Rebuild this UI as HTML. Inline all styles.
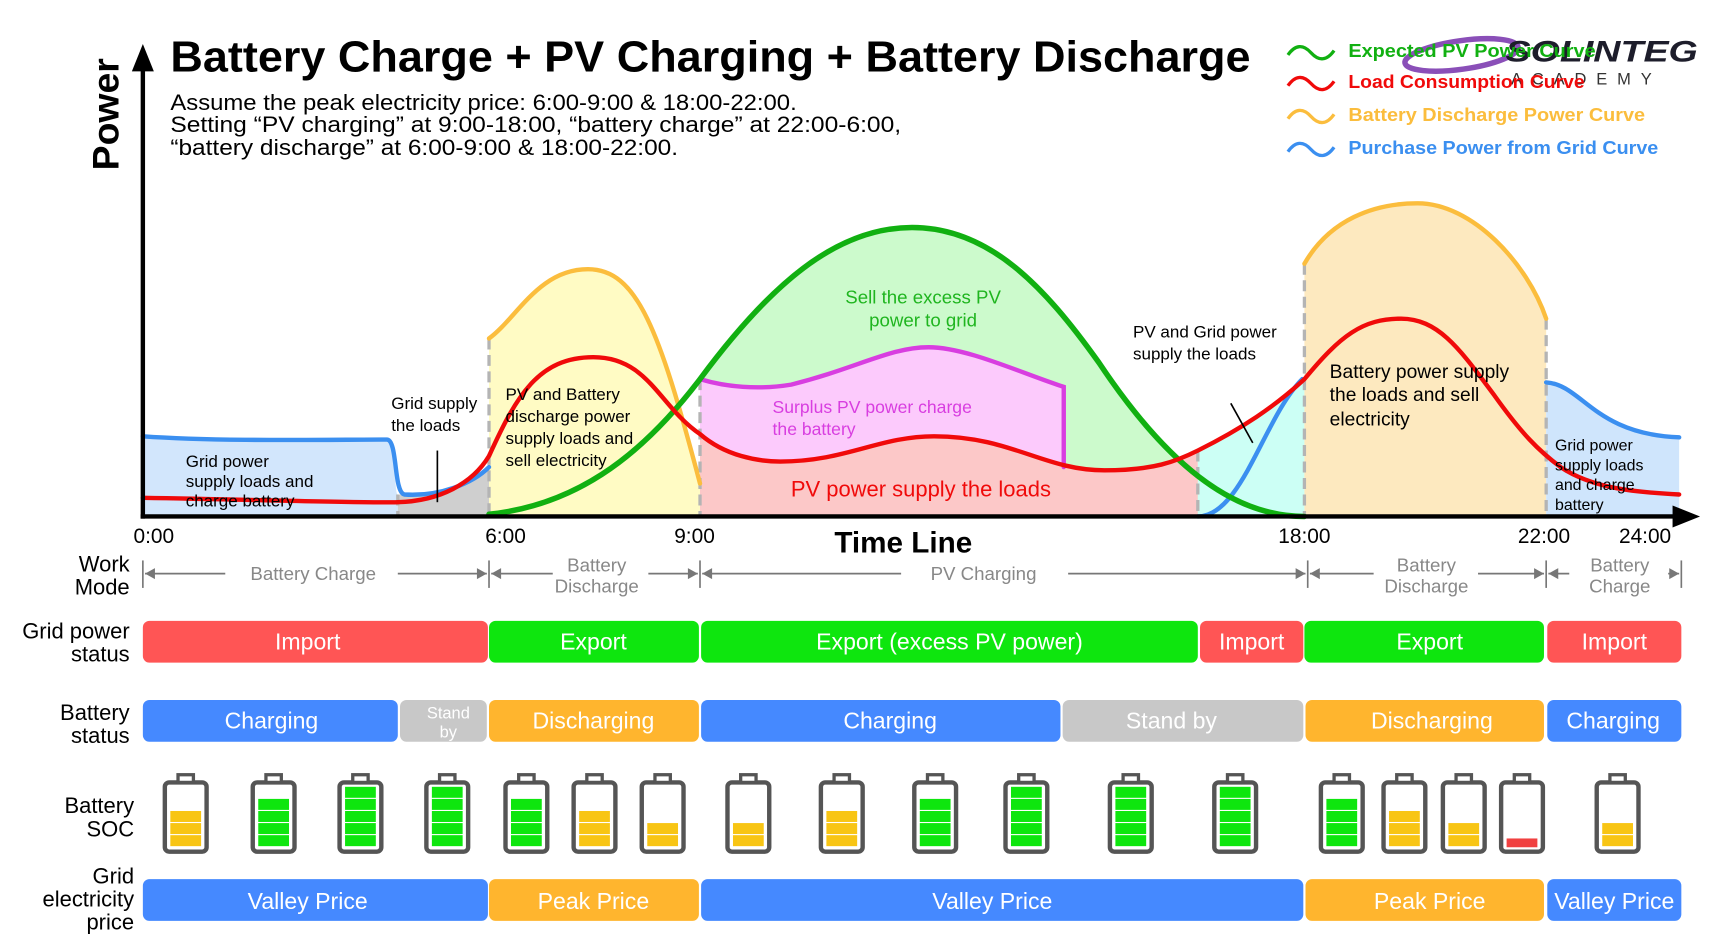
<!DOCTYPE html>
<html><head><meta charset="utf-8"><style>
html,body{margin:0;padding:0;background:#fff;}
svg{display:block;font-family:"Liberation Sans",sans-serif;}
</style></head><body>
<svg width="1722" height="940" viewBox="0 0 1567 855.4" preserveAspectRatio="none" xmlns="http://www.w3.org/2000/svg">
<defs>
<clipPath id="gc"><rect x="637" y="0" width="550" height="470"/></clipPath>
</defs>
<path d="M130,397 C200,402 300,400 352,400 C362,400 358,448 362,450 L362,470 L130,470Z" fill="#d2e6fc"/>
<path d="M362,450 C400,452 430,440 445,425 L445,470 L362,470Z" fill="#cfcfcf"/>
<path d="M445,308 C470,290 490,245 535,245 C580,245 600,300 637,440 L637,470 L445,470Z" fill="#fffbc4"/>
<path clip-path="url(#gc)" d="M445,468 C520,460 580,420 637,345 C700,260 760,207 830,207 C900,207 950,260 1000,330 C1060,420 1120,470 1187,470Z" fill="#ccfacc"/>
<path d="M637,345 C660,352 690,355 720,350 C780,335 810,316 845,316 C880,316 930,340 968,352 L968,470 L637,470Z" fill="#fccafc"/>
<path d="M637,395 C660,415 690,420 710,420 C770,420 800,397 850,397 C920,397 950,428 1005,428 C1050,428 1070,420 1090,410 L1090,470 L637,470Z" fill="#fcc8c8"/>
<path d="M1090,410 C1130,390 1160,370 1187,345 L1187,470 L1090,470Z" fill="#ccfff5"/>
<path d="M1187,240 C1210,200 1250,185 1290,185 C1340,185 1390,240 1407,290 L1407,470 L1187,470Z" fill="#fde9bf"/>
<path d="M1407,348 C1440,350 1450,395 1528,398 L1528,470 L1407,470Z" fill="#cfe5fc"/>
<g stroke="#b4b4b4" stroke-width="3" stroke-dasharray="10,5">
<line x1="445" y1="308" x2="445" y2="470"/><line x1="637" y1="345" x2="637" y2="470"/>
<line x1="1187" y1="240" x2="1187" y2="470"/><line x1="1407" y1="290" x2="1407" y2="470"/>
<line x1="1090" y1="410" x2="1090" y2="470"/><line x1="362" y1="450" x2="362" y2="470"/>
</g>
<g fill="none" stroke-width="4" stroke-linecap="round">
<path d="M130,397 C200,402 300,400 352,400 C362,400 358,448 368,450 C400,452 430,440 445,425" stroke="#3b8ff0"/>
<path d="M1090,470 C1130,470 1150,380 1185,345" stroke="#3b8ff0"/>
<path d="M1407,348 C1440,350 1450,395 1528,398" stroke="#3b8ff0"/>
<path d="M445,308 C470,290 490,245 535,245 C580,245 600,300 637,440" stroke="#fbbd3d"/>
<path d="M1187,240 C1210,200 1250,185 1290,185 C1340,185 1390,240 1407,290" stroke="#fbbd3d"/>
<path d="M637,345 C660,352 690,355 720,350 C780,335 810,316 845,316 C880,316 930,340 968,352 L968,425" stroke="#d83ee0"/>
<path d="M445,468 C520,460 580,420 637,345 C700,260 760,207 830,207 C900,207 950,260 1000,330 C1060,420 1120,470 1187,470" stroke="#11b011" stroke-width="5"/>
<path d="M130,453 C250,455 330,458 362,457 C400,456 430,440 445,415 C470,360 490,325 540,325 C590,325 600,370 637,395 C660,415 690,420 710,420 C770,420 800,397 850,397 C920,397 950,428 1005,428 C1050,428 1070,420 1090,410 C1130,390 1160,370 1187,345 C1220,305 1240,290 1275,290 C1310,290 1330,320 1360,360 C1385,395 1400,410 1420,425 C1450,445 1490,448 1528,450" stroke="#f00a0a"/>
</g>
<line x1="130" y1="60" x2="130" y2="472" stroke="#000" stroke-width="4"/>
<polygon points="130,40 120,65 140,65" fill="#000"/>
<line x1="128" y1="470" x2="1525" y2="470" stroke="#000" stroke-width="4"/>
<polygon points="1547,470 1522,460 1522,480" fill="#000"/>
<text transform="translate(108,155) rotate(-90)" font-size="34" font-weight="bold">Power</text>
<text x="155" y="65" font-size="40" font-weight="bold" textLength="983" lengthAdjust="spacingAndGlyphs">Battery Charge + PV Charging + Battery Discharge</text>
<g font-size="20">
<text x="155" y="100" textLength="570" lengthAdjust="spacingAndGlyphs">Assume the peak electricity price: 6:00-9:00 &amp; 18:00-22:00.</text>
<text x="155" y="120" textLength="665" lengthAdjust="spacingAndGlyphs">Setting “PV charging” at 9:00-18:00,  “battery charge” at 22:00-6:00,</text>
<text x="155" y="141" textLength="462" lengthAdjust="spacingAndGlyphs">“battery discharge” at 6:00-9:00 &amp; 18:00-22:00.</text>
</g>
<ellipse cx="1330" cy="50" rx="52" ry="13" fill="none" stroke="#8a4fb8" stroke-width="5" transform="rotate(-8 1330 50)"/>
<text x="1370" y="56" font-size="27" font-weight="bold" font-style="italic" fill="#1d1d2b" textLength="175" lengthAdjust="spacingAndGlyphs">SOLINTEG</text>
<text x="1375" y="77" font-size="15" fill="#333" letter-spacing="9">ACADEMY</text>
<g fill="none" stroke-width="3">
<path d="M1172,50 q10,-14 21,-2 t21,-2" stroke="#11b011"/>
<path d="M1172,78 q10,-14 21,-2 t21,-2" stroke="#f00a0a"/>
<path d="M1172,108 q10,-14 21,-2 t21,-2" stroke="#fbbd3d"/>
<path d="M1172,138 q10,-14 21,-2 t21,-2" stroke="#3b8ff0"/>
</g>
<g font-size="17" font-weight="bold">
<text x="1227" y="52" fill="#11b011" textLength="225" lengthAdjust="spacingAndGlyphs">Expected PV Power Curve</text>
<text x="1227" y="80" fill="#f00a0a" textLength="215" lengthAdjust="spacingAndGlyphs">Load Consumption Curve</text>
<text x="1227" y="110" fill="#fbbd3d" textLength="270" lengthAdjust="spacingAndGlyphs">Battery Discharge Power Curve</text>
<text x="1227" y="140" fill="#3b8ff0" textLength="282" lengthAdjust="spacingAndGlyphs">Purchase Power from Grid Curve</text>
</g>
<g font-size="15.5">
<text x="169" y="425">Grid power</text><text x="169" y="443">supply loads and</text><text x="169" y="461">charge battery</text>
<text x="356" y="372">Grid supply</text><text x="356" y="392">the loads</text>
<text x="460" y="364">PV and Battery</text><text x="460" y="384">discharge power</text><text x="460" y="404">supply loads and</text><text x="460" y="424">sell electricity</text>
<text x="1031" y="307">PV and Grid power</text><text x="1031" y="327">supply the loads</text>
<text x="1415" y="410" font-size="14.5">Grid power</text><text x="1415" y="428" font-size="14.5">supply loads</text><text x="1415" y="446" font-size="14.5">and charge</text><text x="1415" y="464" font-size="14.5">battery</text>
</g>
<g font-size="17.5"><text x="1210" y="344">Battery power supply</text><text x="1210" y="365">the loads and sell</text><text x="1210" y="387">electricity</text></g>
<line x1="398" y1="410" x2="398" y2="457" stroke="#000" stroke-width="1.5"/>
<line x1="1120" y1="367" x2="1140" y2="403" stroke="#000" stroke-width="1.5"/>
<g font-size="17" fill="#1fb51f" text-anchor="middle"><text x="840" y="276">Sell the excess PV</text><text x="840" y="297">power to grid</text></g>
<g font-size="16" fill="#d83ee0"><text x="703" y="376">Surplus PV power charge</text><text x="703" y="396">the battery</text></g>
<text x="838" y="452" font-size="20" fill="#f00a0a" text-anchor="middle">PV power supply the loads</text>
<g font-size="19" text-anchor="middle">
<text x="140" y="494">0:00</text><text x="460" y="494">6:00</text><text x="632" y="494">9:00</text>
<text x="1187" y="494">18:00</text><text x="1405" y="494">22:00</text><text x="1497" y="494">24:00</text>
</g>
<text x="822" y="503" font-size="27" font-weight="bold" text-anchor="middle">Time Line</text>
<g font-size="20" text-anchor="end">
<text x="118" y="520">Work</text><text x="118" y="541">Mode</text>
<text x="118" y="581">Grid power</text><text x="118" y="602">status</text>
<text x="118" y="655">Battery</text><text x="118" y="676">status</text>
<text x="122" y="740">Battery</text><text x="122" y="761">SOC</text>
<text x="122" y="804">Grid</text><text x="122" y="825">electricity</text><text x="122" y="846">price</text>
</g>
<g stroke="#777" stroke-width="1.5" fill="#777">
<line x1="130" y1="510" x2="130" y2="535"/><line x1="445" y1="510" x2="445" y2="535"/><line x1="637" y1="510" x2="637" y2="535"/>
<line x1="1190" y1="510" x2="1190" y2="535"/><line x1="1407" y1="510" x2="1407" y2="535"/><line x1="1530" y1="510" x2="1530" y2="535"/>
<line x1="132" y1="522" x2="205" y2="522"/><line x1="362" y1="522" x2="443" y2="522"/>
<line x1="447" y1="522" x2="503" y2="522"/><line x1="590" y1="522" x2="635" y2="522"/>
<line x1="639" y1="522" x2="820" y2="522"/><line x1="972" y1="522" x2="1188" y2="522"/>
<line x1="1192" y1="522" x2="1250" y2="522"/><line x1="1345" y1="522" x2="1405" y2="522"/>
<line x1="1409" y1="522" x2="1428" y2="522"/><line x1="1518" y1="522" x2="1528" y2="522"/>
</g>
<g fill="#777">
<polygon points="132,522 141,517 141,527"/><polygon points="443,522 434,517 434,527"/>
<polygon points="447,522 456,517 456,527"/><polygon points="635,522 626,517 626,527"/>
<polygon points="639,522 648,517 648,527"/><polygon points="1188,522 1179,517 1179,527"/>
<polygon points="1192,522 1201,517 1201,527"/><polygon points="1405,522 1396,517 1396,527"/>
<polygon points="1409,522 1418,517 1418,527"/><polygon points="1528,522 1519,517 1519,527"/>
</g>
<g font-size="17" fill="#888" text-anchor="middle">
<text x="285" y="528">Battery Charge</text>
<text x="543" y="520">Battery</text><text x="543" y="539">Discharge</text>
<text x="895" y="528">PV Charging</text>
<text x="1298" y="520">Battery</text><text x="1298" y="539">Discharge</text>
<text x="1474" y="520">Battery</text><text x="1474" y="539">Charge</text>
</g>
<g>
<rect x="130" y="565" width="314" height="38" rx="6" fill="#ff5555"/>
<rect x="445" y="565" width="191" height="38" rx="6" fill="#0ee60e"/>
<rect x="638" y="565" width="452" height="38" rx="6" fill="#0ee60e"/>
<rect x="1092" y="565" width="94" height="38" rx="6" fill="#ff5555"/>
<rect x="1187" y="565" width="218" height="38" rx="6" fill="#0ee60e"/>
<rect x="1408" y="565" width="122" height="38" rx="6" fill="#ff5555"/>
<rect x="130" y="637" width="232" height="38" rx="6" fill="#4589ff"/>
<rect x="364" y="637" width="79" height="38" rx="6" fill="#c8c8c8"/>
<rect x="445" y="637" width="191" height="38" rx="6" fill="#ffb52e"/>
<rect x="638" y="637" width="327" height="38" rx="6" fill="#4589ff"/>
<rect x="967" y="637" width="219" height="38" rx="6" fill="#c8c8c8"/>
<rect x="1188" y="637" width="217" height="38" rx="6" fill="#ffb52e"/>
<rect x="1408" y="637" width="122" height="38" rx="6" fill="#4589ff"/>
<rect x="130" y="800" width="314" height="38" rx="6" fill="#4589ff"/>
<rect x="445" y="800" width="191" height="38" rx="6" fill="#ffb52e"/>
<rect x="638" y="800" width="548" height="38" rx="6" fill="#4589ff"/>
<rect x="1188" y="800" width="217" height="38" rx="6" fill="#ffb52e"/>
<rect x="1408" y="800" width="122" height="38" rx="6" fill="#4589ff"/>
</g>
<g font-size="21" fill="#fff" text-anchor="middle">
<text x="280" y="591">Import</text><text x="540" y="591">Export</text><text x="864" y="591">Export (excess PV power)</text>
<text x="1139" y="591">Import</text><text x="1301" y="591">Export</text><text x="1469" y="591">Import</text>
<text x="247" y="663">Charging</text><text x="540" y="663">Discharging</text><text x="810" y="663">Charging</text>
<text x="1066" y="663">Stand by</text><text x="1303" y="663">Discharging</text><text x="1468" y="663">Charging</text>
<text x="280" y="827">Valley Price</text><text x="540" y="827">Peak Price</text><text x="903" y="827">Valley Price</text>
<text x="1301" y="827">Peak Price</text><text x="1469" y="827">Valley Price</text>
<text x="408" y="654" font-size="15">Stand</text><text x="408" y="671" font-size="15">by</text>
</g>
<g stroke="#555" stroke-width="4" fill="#fff">
<rect x="150" y="712" width="38" height="63" rx="4"/><rect x="230" y="712" width="38" height="63" rx="4"/>
<rect x="309" y="712" width="38" height="63" rx="4"/><rect x="388" y="712" width="38" height="63" rx="4"/>
<rect x="460" y="712" width="38" height="63" rx="4"/><rect x="522" y="712" width="38" height="63" rx="4"/>
<rect x="584" y="712" width="38" height="63" rx="4"/><rect x="662" y="712" width="38" height="63" rx="4"/>
<rect x="747" y="712" width="38" height="63" rx="4"/><rect x="832" y="712" width="38" height="63" rx="4"/>
<rect x="915" y="712" width="38" height="63" rx="4"/><rect x="1010" y="712" width="38" height="63" rx="4"/>
<rect x="1105" y="712" width="38" height="63" rx="4"/><rect x="1202" y="712" width="38" height="63" rx="4"/>
<rect x="1259" y="712" width="38" height="63" rx="4"/><rect x="1313" y="712" width="38" height="63" rx="4"/>
<rect x="1366" y="712" width="38" height="63" rx="4"/><rect x="1453" y="712" width="38" height="63" rx="4"/>
</g>
<g stroke="#555" stroke-width="3" fill="#fff">
<rect x="162" y="705" width="14" height="7"/><rect x="242" y="705" width="14" height="7"/><rect x="321" y="705" width="14" height="7"/>
<rect x="400" y="705" width="14" height="7"/><rect x="472" y="705" width="14" height="7"/><rect x="534" y="705" width="14" height="7"/>
<rect x="596" y="705" width="14" height="7"/><rect x="674" y="705" width="14" height="7"/><rect x="759" y="705" width="14" height="7"/>
<rect x="844" y="705" width="14" height="7"/><rect x="927" y="705" width="14" height="7"/><rect x="1022" y="705" width="14" height="7"/>
<rect x="1117" y="705" width="14" height="7"/><rect x="1214" y="705" width="14" height="7"/><rect x="1271" y="705" width="14" height="7"/>
<rect x="1325" y="705" width="14" height="7"/><rect x="1378" y="705" width="14" height="7"/><rect x="1465" y="705" width="14" height="7"/>
</g>
<g fill="#f8c514">
<rect x="155" y="760" width="28" height="10"/><rect x="155" y="749" width="28" height="10"/><rect x="155" y="738" width="28" height="10"/>
<rect x="527" y="760" width="28" height="10"/><rect x="527" y="749" width="28" height="10"/><rect x="527" y="738" width="28" height="10"/>
<rect x="589" y="760" width="28" height="10"/><rect x="589" y="749" width="28" height="10"/>
<rect x="667" y="760" width="28" height="10"/><rect x="667" y="749" width="28" height="10"/>
<rect x="752" y="760" width="28" height="10"/><rect x="752" y="749" width="28" height="10"/><rect x="752" y="738" width="28" height="10"/>
<rect x="1264" y="760" width="28" height="10"/><rect x="1264" y="749" width="28" height="10"/><rect x="1264" y="738" width="28" height="10"/>
<rect x="1318" y="760" width="28" height="10"/><rect x="1318" y="749" width="28" height="10"/>
<rect x="1458" y="760" width="28" height="10"/><rect x="1458" y="749" width="28" height="10"/>
</g>
<rect x="1371" y="763" width="28" height="8" fill="#f04040"/>
<g fill="#0ee60e">
<rect x="235" y="760" width="28" height="10"/><rect x="235" y="749" width="28" height="10"/><rect x="235" y="738" width="28" height="10"/><rect x="235" y="727" width="28" height="10"/>
<rect x="314" y="760" width="28" height="10"/><rect x="314" y="749" width="28" height="10"/><rect x="314" y="738" width="28" height="10"/><rect x="314" y="727" width="28" height="10"/><rect x="314" y="716" width="28" height="10"/>
<rect x="393" y="760" width="28" height="10"/><rect x="393" y="749" width="28" height="10"/><rect x="393" y="738" width="28" height="10"/><rect x="393" y="727" width="28" height="10"/><rect x="393" y="716" width="28" height="10"/>
<rect x="465" y="760" width="28" height="10"/><rect x="465" y="749" width="28" height="10"/><rect x="465" y="738" width="28" height="10"/><rect x="465" y="727" width="28" height="10"/>
<rect x="837" y="760" width="28" height="10"/><rect x="837" y="749" width="28" height="10"/><rect x="837" y="738" width="28" height="10"/><rect x="837" y="727" width="28" height="10"/>
<rect x="920" y="760" width="28" height="10"/><rect x="920" y="749" width="28" height="10"/><rect x="920" y="738" width="28" height="10"/><rect x="920" y="727" width="28" height="10"/><rect x="920" y="716" width="28" height="10"/>
<rect x="1015" y="760" width="28" height="10"/><rect x="1015" y="749" width="28" height="10"/><rect x="1015" y="738" width="28" height="10"/><rect x="1015" y="727" width="28" height="10"/><rect x="1015" y="716" width="28" height="10"/>
<rect x="1110" y="760" width="28" height="10"/><rect x="1110" y="749" width="28" height="10"/><rect x="1110" y="738" width="28" height="10"/><rect x="1110" y="727" width="28" height="10"/><rect x="1110" y="716" width="28" height="10"/>
<rect x="1207" y="760" width="28" height="10"/><rect x="1207" y="749" width="28" height="10"/><rect x="1207" y="738" width="28" height="10"/><rect x="1207" y="727" width="28" height="10"/>
</g>
</svg>
</body></html>
